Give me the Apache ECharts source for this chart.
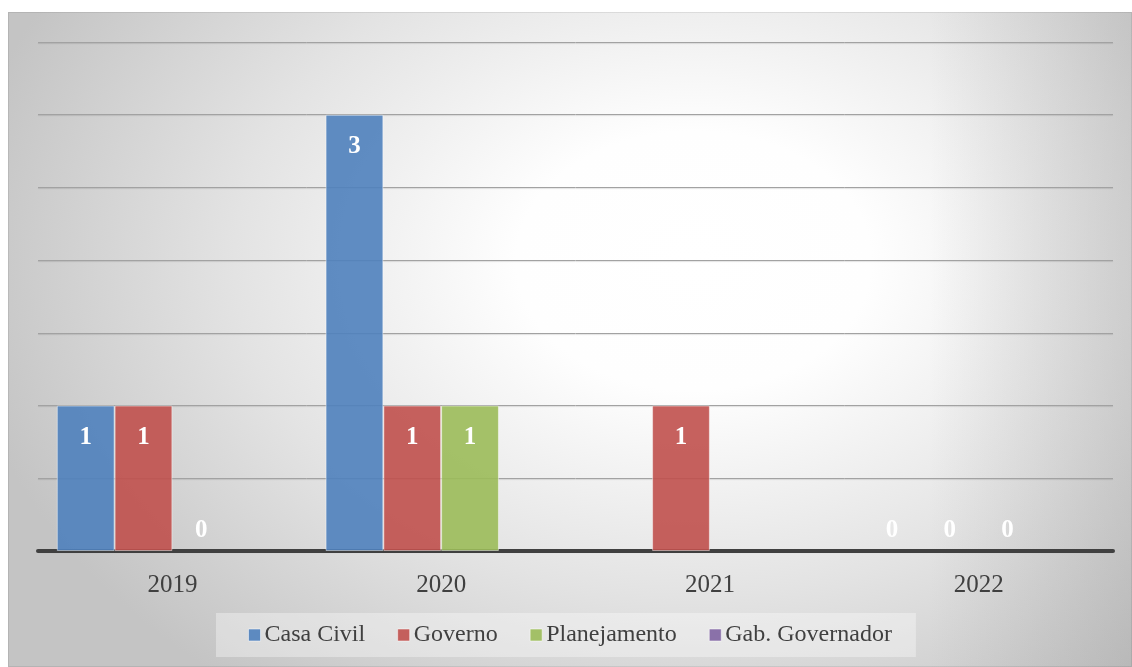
<!DOCTYPE html>
<html>
<head>
<meta charset="utf-8">
<script src="https://cdn.jsdelivr.net/npm/echarts@6/dist/echarts.min.js"></script>
<style>
  html, body { margin: 0; padding: 0; background: #ffffff; width: 1132px; height: 667px; overflow: hidden; }
  #chart {
    position: absolute; left: 8px; top: 12px; width: 1124px; height: 655px;
    background:
      linear-gradient(to left, rgba(150,150,150,0.3) 0%, rgba(150,150,150,0) 18%),
      radial-gradient(ellipse 740px 540px at 61% 38%, #ffffff 0%, #fefefe 24%, #e3e3e3 62%, #c4c4c4 100%);
    box-shadow: inset 0 0 0 1px rgba(0,0,0,0.08);
  }
</style>
</head>
<body>
<div id="chart"></div>
<script>
// Categories (years) and the count per office
const years = ['2019', '2020', '2021', '2022'];
const seriesNames = ['Casa Civil', 'Governo', 'Planejamento', 'Gab. Governador'];
const casaCivil = [1, 3, null, 0];
const governo = [1, 1, 1, 0];
const planejamento = [0, 1, null, 0];
const gabGovernador = [null, null, null, null];

const colors = ['rgba(79,129,189,0.9)', 'rgba(192,80,77,0.9)', 'rgba(155,187,89,0.9)', 'rgba(128,100,162,0.9)'];
const serifFont = '"Liberation Serif", "DejaVu Serif", serif';

// Zero values get their label just above the baseline and no outline; others label inside the bar top
function toItems(values) {
  return values.map(function (v) {
    if (v === 0) {
      return { value: v, itemStyle: { borderWidth: 0 }, label: { position: 'top', distance: 8 } };
    }
    return v;
  });
}

function makeSeries(name, values, color) {
  return {
    name: name,
    type: 'bar',
    data: toItems(values),
    barGap: '0%',
    barCategoryGap: '14%',
    itemStyle: { color: color, borderColor: 'rgba(255,255,255,0.45)', borderWidth: 1 },
    label: {
      show: true,
      position: 'insideTop',
      distance: 19,
      color: '#ffffff',
      fontFamily: serifFont,
      fontWeight: 'bold',
      fontSize: 25
    }
  };
}

const chart = echarts.init(document.getElementById('chart'), null, { renderer: 'canvas' });
chart.setOption({
  backgroundColor: 'transparent',
  animation: false,
  color: colors,
  grid: { left: 30, right: 19, top: 30, bottom: 116, containLabel: false },
  legend: {
    data: seriesNames,
    left: 208,
    top: 601,
    padding: [10, 24, 10, 32],
    itemGap: 32,
    itemWidth: 12,
    itemHeight: 12,
    icon: 'rect',
    backgroundColor: 'rgba(255,255,255,0.35)',
    textStyle: { fontFamily: serifFont, fontSize: 24, color: '#404040', padding: [0, 0, 0, -1] },
    itemStyle: { borderColor: 'rgba(255,255,255,0.5)', borderWidth: 1 }
  },
  xAxis: {
    type: 'category',
    data: years,
    axisLine: { show: true, lineStyle: { color: '#404040', width: 4 } },
    axisTick: { show: false },
    axisLabel: { color: '#404040', fontFamily: serifFont, fontSize: 25, margin: 22 }
  },
  yAxis: {
    type: 'value',
    min: 0,
    max: 3.5,
    interval: 0.5,
    axisLine: { show: false },
    axisTick: { show: false },
    axisLabel: { show: false },
    splitLine: {
      lineStyle: { color: '#a2a2a2', width: 1, shadowColor: 'rgba(0,0,0,0.12)', shadowBlur: 1, shadowOffsetY: 1 }
    }
  },
  series: [
    makeSeries(seriesNames[0], casaCivil, colors[0]),
    makeSeries(seriesNames[1], governo, colors[1]),
    makeSeries(seriesNames[2], planejamento, colors[2]),
    makeSeries(seriesNames[3], gabGovernador, colors[3])
  ]
});
</script>
</body>
</html>
